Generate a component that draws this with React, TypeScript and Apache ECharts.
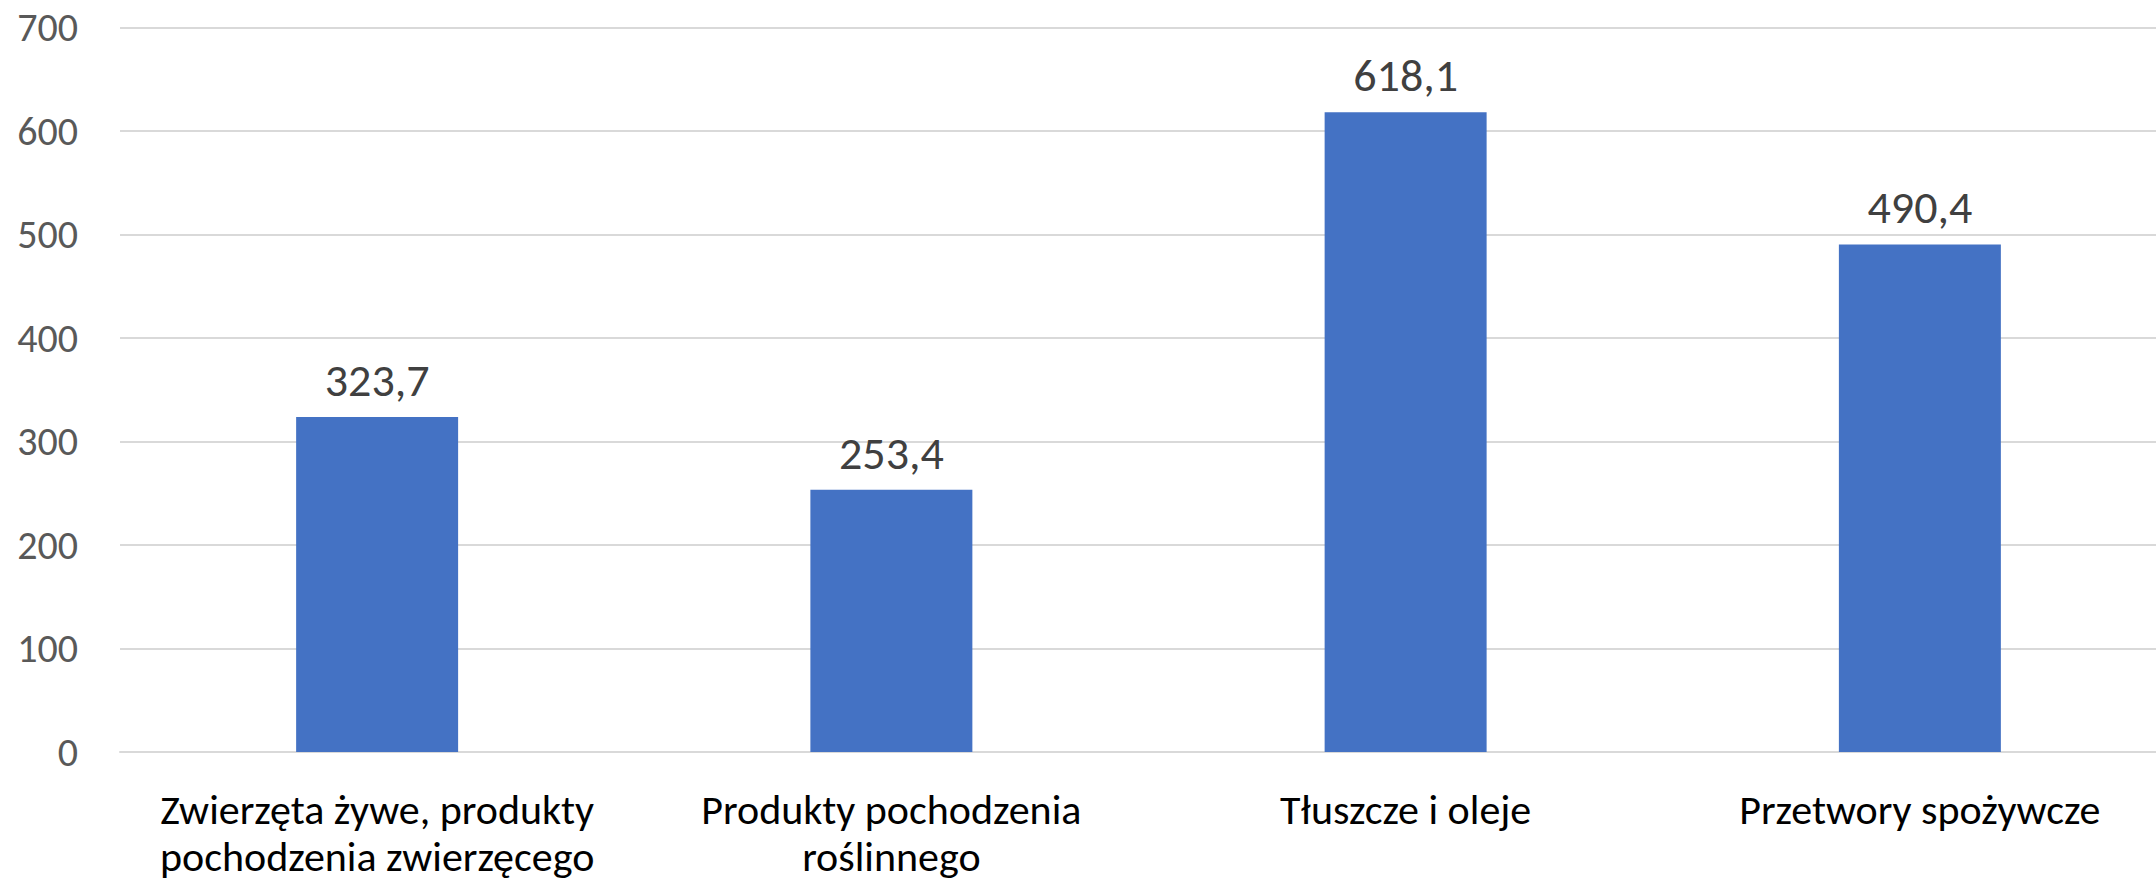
import React, { useEffect, useRef } from "react";
import * as echarts from "echarts";

const categories = [
  "Zwierzęta żywe, produkty\npochodzenia zwierzęcego",
  "Produkty pochodzenia\nroślinnego",
  "Tłuszcze i oleje",
  "Przetwory spożywcze",
];
const values = [323.7, 253.4, 618.1, 490.4];
const yTicks = { min: 0, max: 700, interval: 100 };

export default function App() {
  const ref = useRef<HTMLDivElement>(null);
  useEffect(() => {
    document.body.style.margin = "0";
    const chart = echarts.init(ref.current!, null, { renderer: "svg" });
    const font = "Carlito, Lato, 'Open Sans', sans-serif";
    chart.setOption({
      animation: false,
      backgroundColor: "#ffffff",
      grid: {
        left: 120,
        top: 27.5,
        width: 2057,
        bottom: 129,
        outerBoundsMode: "none",
        containLabel: false,
      },
      xAxis: {
        type: "category",
        data: categories,
        axisLine: { show: true, lineStyle: { color: "#d9d9d9", width: 2 } },
        axisTick: { show: false },
        axisLabel: {
          color: "#000000",
          fontFamily: font,
          fontSize: 42,
          lineHeight: 47,
          margin: 34,
          interval: 0,
        },
      },
      yAxis: {
        type: "value",
        min: yTicks.min,
        max: yTicks.max,
        interval: yTicks.interval,
        axisLine: { show: false },
        axisTick: { show: false },
        splitLine: { lineStyle: { color: "#d9d9d9", width: 2 } },
        axisLabel: {
          color: "#595959",
          fontFamily: font,
          fontSize: 40,
          margin: 42,
        },
      },
      series: [
        {
          type: "bar",
          data: values,
          barWidth: "31.5%",
          itemStyle: { color: "#4472c4" },
          label: {
            show: true,
            position: "top",
            distance: 14,
            color: "#404040",
            fontFamily: font,
            fontSize: 46,
            formatter: (p: any) => String(p.value).replace(".", ","),
          },
        },
      ],
    });
    return () => chart.dispose();
  }, []);
  return <div ref={ref} style={{ width: 2156, height: 881 }} />;
}
